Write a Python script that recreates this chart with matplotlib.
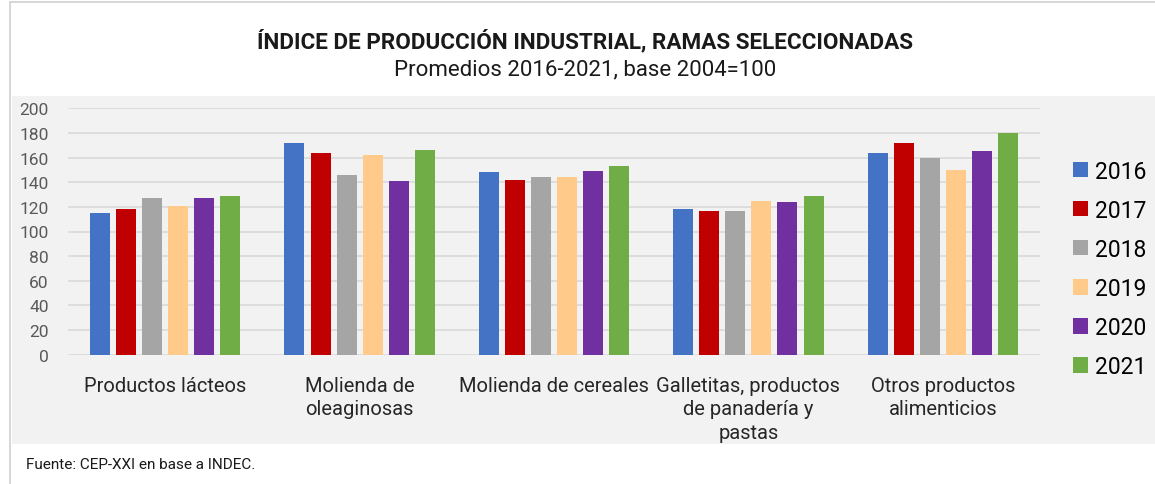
import matplotlib

matplotlib.use("Agg")
import matplotlib.pyplot as plt
import numpy as np
from matplotlib.patches import Rectangle

plt.rcParams["font.family"] = ["Roboto", "DejaVu Sans"]

categories = [
    "Productos lácteos",
    "Molienda de\noleaginosas",
    "Molienda de cereales",
    "Galletitas, productos\nde panadería y\npastas",
    "Otros productos\nalimenticios",
]
years = ["2016", "2017", "2018", "2019", "2020", "2021"]
v2016 = [115, 172, 148, 118, 164]
v2017 = [118, 164, 142, 117, 172]
v2018 = [127, 146, 144, 117, 160]
v2019 = [121, 162, 144, 125, 150]
v2020 = [127, 141, 149, 124, 165]
v2021 = [129, 166, 153, 129, 180]
series = [v2016, v2017, v2018, v2019, v2020, v2021]
colors = ["#4472C4", "#C00000", "#A5A5A5", "#FFCA8A", "#7030A0", "#70AD47"]

fig = plt.figure(figsize=(11.55, 4.85), dpi=100)
fig.patch.set_facecolor("white")

# outer frame and grey chart panel
fig.patches.append(Rectangle((10 / 1155, -0.1), 1.2, 1.1 - 3 / 485, transform=fig.transFigure,
                             facecolor="white", edgecolor="#cfcfcf", lw=1.2, zorder=-2))
fig.patches.append(Rectangle((12 / 1155, 1 - 445 / 485), 1.0, (445 - 97) / 485, transform=fig.transFigure,
                             facecolor="#f2f2f2", edgecolor="none", zorder=-1))

ax = fig.add_axes([68 / 1155, 1 - 355.7 / 485, (1040 - 68) / 1155, (355.7 - 109.3) / 485])
ax.set_zorder(2)
ax.set_facecolor("none")

x = np.arange(len(categories))
step = 0.134
width = 0.103
for i, (vals, col, yr) in enumerate(zip(series, colors, years)):
    ax.bar(x + (i - 2.5) * step, vals, width=width, color=col, label=yr, zorder=3)

ax.set_xlim(-0.5, len(categories) - 0.5)
ax.set_ylim(0, 200)
ax.set_yticks(range(0, 201, 20))
ax.yaxis.grid(True, color="#d9d9d9", lw=1.2, zorder=0)
for s in ax.spines.values():
    s.set_visible(False)
ax.tick_params(axis="both", length=0)
ax.tick_params(axis="y", labelsize=12.5, labelcolor="#595959", pad=14)
ax.set_xticks(x)
ax.set_xticklabels(categories, fontsize=14.5, color="#262626", linespacing=1.33, va="top")
ax.tick_params(axis="x", pad=15)

fig.legend(loc="center left", bbox_to_anchor=(1073 / 1155, 1 - 270 / 485), frameon=False,
           fontsize=16.5, handlelength=0.64, handleheight=0.64, handletextpad=0.3,
           labelspacing=0.7, borderaxespad=0, borderpad=0)

fig.text(585 / 1155, 1 - 42 / 485, "ÍNDICE DE PRODUCCIÓN INDUSTRIAL, RAMAS SELECCIONADAS",
         ha="center", va="center", fontsize=16.2, fontweight="bold", color="#1a1a1a")
fig.text(585 / 1155, 1 - 70 / 485, "Promedios 2016-2021, base 2004=100",
         ha="center", va="center", fontsize=16, color="#1a1a1a")
fig.text(26 / 1155, 1 - 465 / 485, "Fuente: CEP-XXI en base a INDEC.",
         ha="left", va="center", fontsize=11, color="#1a1a1a")

fig.savefig("out.png", dpi=100)
